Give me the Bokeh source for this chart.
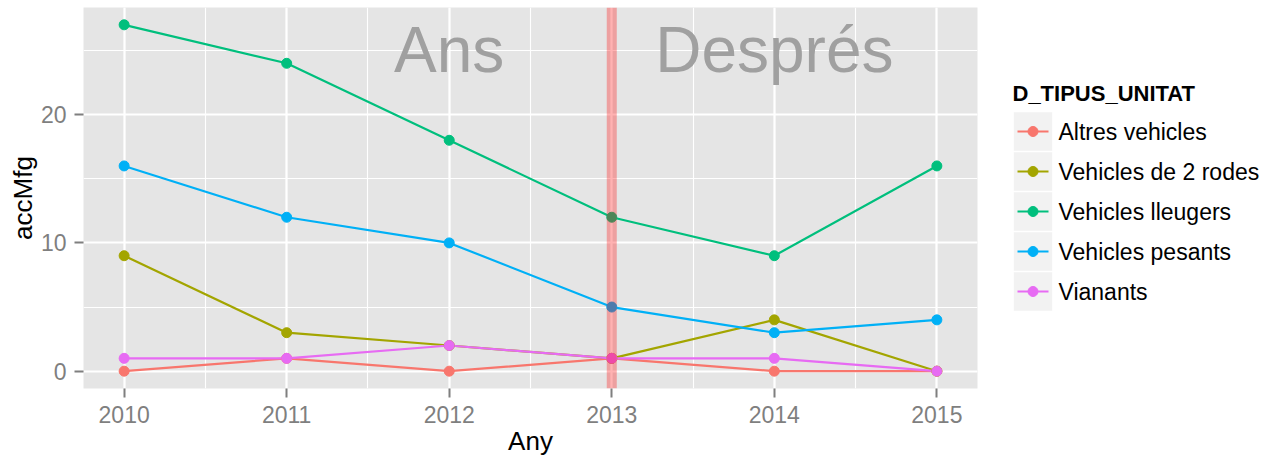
from bokeh.plotting import figure
from bokeh.layouts import row
from bokeh.models import Range1d, SingleIntervalTicker, Span, ColumnDataSource
from bokeh.core.properties import value
from bokeh.embed import file_html
from bokeh.resources import INLINE

years = [2010, 2011, 2012, 2013, 2014, 2015]
series_names = ["Altres vehicles", "Vehicles de 2 rodes", "Vehicles lleugers",
                "Vehicles pesants", "Vianants"]
altres = [0, 1, 0, 1, 0, 0]
dues_rodes = [9, 3, 2, 1, 4, 0]
lleugers = [27, 24, 18, 12, 9, 16]
pesants = [16, 12, 10, 5, 3, 4]
vianants = [1, 1, 2, 1, 1, 0]
series_values = [altres, dues_rodes, lleugers, pesants, vianants]
colors = ["#F8766D", "#A3A500", "#00BF7D", "#00B0F6", "#E76BF3"]

event_year = 2013
annot_labels = ["Ans", "Després"]
annot_x = [2012, 2014]
annot_y = [25, 25]

FONT = "Liberation Sans"
H = 460
TOP = 7
BOTTOM = 72

p = figure(width=998, height=H, x_range=Range1d(2009.75, 2015.25),
           y_range=Range1d(-1.35, 28.35), output_backend="svg",
           toolbar_location=None, min_border_left=83, min_border_right=21,
           min_border_top=TOP, min_border_bottom=BOTTOM)
p.background_fill_color = "#E5E5E5"
p.border_fill_color = "white"
p.outline_line_color = None

p.xaxis.ticker = SingleIntervalTicker(interval=1, num_minor_ticks=2)
p.yaxis.ticker = SingleIntervalTicker(interval=10, num_minor_ticks=2)
for ax in (p.xaxis[0], p.yaxis[0]):
    ax.axis_line_color = None
    ax.minor_tick_line_color = None
    ax.major_tick_line_color = "#7F7F7F"
    ax.major_tick_line_width = 2
    ax.major_tick_out = 9
    ax.major_tick_in = 0
    ax.major_label_text_font = FONT
    ax.major_label_text_font_size = "23px"
    ax.major_label_text_color = "#7F7F7F"
    ax.axis_label_text_font = FONT
    ax.axis_label_text_font_size = "26px"
    ax.axis_label_text_font_style = "normal"
    ax.axis_label_text_color = "black"
p.xaxis.major_label_standoff = 8
p.xaxis.axis_label_standoff = 0
p.yaxis.major_label_standoff = 8
p.yaxis.axis_label_standoff = 0
p.xaxis.axis_label = "Any"
p.yaxis.axis_label = "accMfg"

for g in (p.xgrid[0], p.ygrid[0]):
    g.grid_line_color = "white"
    g.grid_line_width = 2.2
    g.minor_grid_line_color = "white"
    g.minor_grid_line_width = 1.1

# annotation texts
p.text(x=annot_x, y=annot_y, text=annot_labels, text_font=value(FONT),
       text_font_size="64px", text_color="#A0A0A0", text_align="center",
       text_baseline="middle")

sources = [ColumnDataSource(dict(x=years, y=vals)) for vals in series_values]
for src, c in zip(sources, colors):
    p.line("x", "y", source=src, line_color=c, line_width=2.2)
for src, c in zip(sources, colors):
    p.scatter("x", "y", source=src, size=10, fill_color=c, line_color=c)

vline = Span(location=event_year, dimension="height", line_color="red",
             line_alpha=0.3, line_width=10)
p.add_layout(vline)

# legend panel (pixel-like coordinates, y downward, matching page rows)
LW = 272
lg = figure(width=LW, height=H, x_range=Range1d(0, LW),
            y_range=Range1d(H - BOTTOM, TOP), output_backend="svg",
            toolbar_location=None, min_border_left=0, min_border_right=0,
            min_border_top=TOP, min_border_bottom=BOTTOM)
lg.axis.visible = False
lg.grid.visible = False
lg.outline_line_color = None
lg.background_fill_color = "white"
lg.border_fill_color = "white"

lg.text(x=[14], y=[93], text=["D_TIPUS_UNITAT"], text_font=value(FONT),
        text_font_size="22px", text_font_style="bold", text_color="black",
        text_align="left", text_baseline="middle")
item_y = [131 + 40 * i for i in range(len(series_names))]
lg.rect(x=[34.5] * len(item_y), y=item_y, width=38.4, height=38.4,
        fill_color="#F2F2F2", line_color=None)
for yy, c in zip(item_y, colors):
    lg.line(x=[19, 50], y=[yy, yy], line_color=c, line_width=2.2)
lg.scatter(x=[34.5] * len(item_y), y=item_y, size=10, fill_color=colors, line_color=colors)
lg.text(x=[60] * len(item_y), y=item_y, text=series_names, text_font=value(FONT),
        text_font_size="23px", text_color="black", text_align="left",
        text_baseline="middle")

layout = row(p, lg)
open("out.html", "w").write(file_html(layout, INLINE))
